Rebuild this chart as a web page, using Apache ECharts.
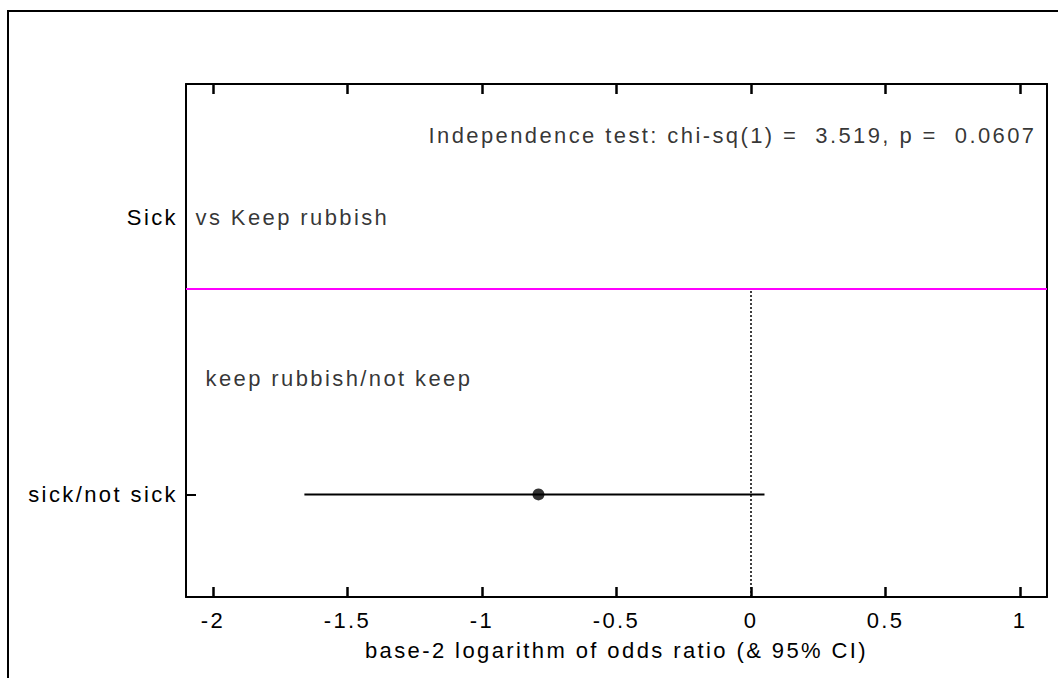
<!DOCTYPE html>
<html>
<head>
<meta charset="utf-8">
<script src="https://cdn.jsdelivr.net/npm/echarts@6/dist/echarts.min.js"></script>
<style>
  html, body { margin: 0; padding: 0; background: #fff; }
  /* the reference text is spaced out, svg text picks this up */
  #main { width: 1058px; height: 678px; letter-spacing: 2.4px; }
</style>
</head>
<body>
<div id="main"></div>
<script>
// x axis ticks (base-2 log odds ratio)
var xTicks = [-2, -1.5, -1, -0.5, 0, 0.5, 1];
var xMin = -2.1, xMax = 1.1;

// rows on the y scale (0 = bottom of box, 10 = top)
var yLabelValues = [2, 7.4];
var yLabels = ['sick/not sick', 'Sick'];
var rowY = 2;

// estimate and 95% CI for sick/not sick
var orEst = [-0.79];
var ciLow = [-1.66];
var ciHigh = [0.05];

// separator and reference line
var sepY = 6;
var refX = 0;

// texts inside the box
var noteTexts = ['Independence test: chi-sq(1) =  3.519, p =  0.0607', 'vs Keep rubbish', 'keep rubbish/not keep'];
var noteX = [1.1, -2.1, -2.1];
var noteY = [9, 7.4, 4.25];

var font = "'Liberation Sans', Arial, sans-serif";
var fs = 22;

var chart = echarts.init(document.getElementById('main'), null, { renderer: 'svg' });

var notePos = ['left', 'right', 'right'];
var noteDist = [10, 9, 19];
var noteData = [];
for (var i = 0; i < noteTexts.length; i++) {
    noteData.push({
        value: [noteX[i], noteY[i]],
        label: { show: true, formatter: noteTexts[i], position: notePos[i], distance: noteDist[i] }
    });
}

var axisLine = { show: true, onZero: false, lineStyle: { color: '#000', width: 2 } };

var option = {
    animation: false,
    backgroundColor: '#fff',
    textStyle: { fontFamily: font, fontSize: fs, color: '#000' },
    graphic: [{
        type: 'rect',
        shape: { x: 8, y: 11, width: 1100, height: 720 },
        style: { fill: 'none', stroke: '#000', lineWidth: 2 }
    }],
    grid: { left: 186, top: 84, right: 11, bottom: 81 },
    xAxis: [{
        type: 'value', position: 'bottom', min: xMin, max: xMax,
        axisLine: axisLine,
        axisTick: { show: true, inside: true, length: 10, customValues: xTicks, lineStyle: { color: '#000', width: 2.5 } },
        axisLabel: { customValues: xTicks, margin: 12, color: '#000', fontSize: fs, fontFamily: font },
        splitLine: { show: false },
        name: 'base-2 logarithm of odds ratio (& 95% CI)',
        nameLocation: 'middle', nameGap: 42,
        nameTextStyle: { color: '#000', fontSize: fs, fontFamily: font }
    }, {
        type: 'value', position: 'top', min: xMin, max: xMax,
        axisLine: axisLine,
        axisTick: { show: true, inside: true, length: 10, customValues: xTicks, lineStyle: { color: '#000', width: 2.5 } },
        axisLabel: { show: false },
        splitLine: { show: false }
    }],
    yAxis: [{
        type: 'value', position: 'left', min: 0, max: 10,
        axisLine: axisLine,
        axisTick: { show: true, inside: true, length: 10, customValues: [rowY], lineStyle: { color: '#000', width: 2 } },
        axisLabel: {
            customValues: yLabelValues, margin: 8, color: '#000', fontSize: fs, fontFamily: font,
            formatter: function (v) {
                var k = yLabelValues.indexOf(v);
                return k >= 0 ? yLabels[k] : '';
            }
        },
        splitLine: { show: false }
    }, {
        type: 'value', position: 'right', min: 0, max: 10,
        axisLine: axisLine, axisTick: { show: false }, axisLabel: { show: false }, splitLine: { show: false }
    }],
    series: [{
        name: 'CI', type: 'line', symbol: 'none',
        data: [[ciLow[0], rowY], [ciHigh[0], rowY]],
        lineStyle: { color: '#000', width: 2 },
        markLine: {
            silent: true, symbol: 'none', label: { show: false },
            data: [
                { yAxis: sepY, lineStyle: { color: '#ff00ff', width: 2, type: 'solid' } },
                [{ coord: [refX, 0], lineStyle: { color: '#000', width: 1.5, type: [2, 2] } }, { coord: [refX, sepY] }]
            ]
        }
    }, {
        name: 'OR', type: 'scatter', symbol: 'circle', symbolSize: 12,
        data: [[orEst[0], rowY]],
        itemStyle: { color: '#000' }
    }, {
        name: 'notes', type: 'scatter', symbolSize: 1,
        itemStyle: { color: 'transparent' },
        label: { color: '#000', fontSize: fs, fontFamily: font },
        data: noteData
    }]
};
chart.setOption(option);
</script>
</body>
</html>
